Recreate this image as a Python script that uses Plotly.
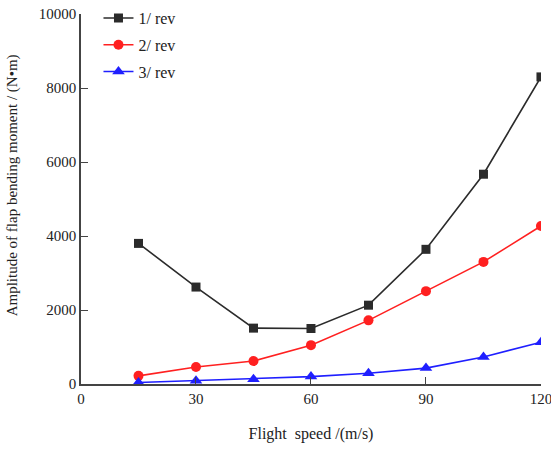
import plotly.graph_objects as go

speed = [15, 30, 45, 60, 75, 90, 105, 120]
rev1 = [3800, 2620, 1510, 1500, 2130, 3640, 5670, 8300]
rev2 = [220, 460, 620, 1050, 1720, 2510, 3300, 4270]
rev3 = [40, 90, 130, 200, 290, 430, 730, 1130]

x_ticks = [0, 30, 60, 90, 120]
y_ticks = [0, 2000, 4000, 6000, 8000, 10000]
y_ticktext = ["0", "2000", "4000", "6000", "8000", "10000"]

series = [
    ("1/ rev", rev1, "#2b2b2b", "square", 9),
    ("2/ rev", rev2, "#ff2020", "circle", 10),
    ("3/ rev", rev3, "#1f1fff", "triangle-up", 11),
]

fig = go.Figure()
for i, (name, vals, color, sym, sz) in enumerate(series):
    fig.add_trace(go.Scatter(
        x=speed, y=vals, name=name, mode="lines+markers",
        line=dict(color=color, width=1.6),
        marker=dict(symbol=sym, size=sz, color=color),
        legendgroup=f"g{i}",
    ))

font = "Liberation Serif, Times New Roman, serif"
fig.update_layout(
    width=551, height=449,
    margin=dict(l=81, r=10, t=14, b=65, autoexpand=False),
    plot_bgcolor="white", paper_bgcolor="white",
    font=dict(family=font, size=15, color="#222"),
    showlegend=True,
    legend=dict(x=0.038, y=1.035, xanchor="left", yanchor="top",
                bgcolor="rgba(0,0,0,0)", font=dict(size=16, family=font),
                traceorder="grouped", tracegroupgap=3),
    xaxis=dict(range=[0, 120.01], tickvals=x_ticks,
               showgrid=False, zeroline=False, showline=True,
               linecolor="#444", linewidth=1.5, ticks="inside", ticklen=7,
               tickcolor="#444", tickfont=dict(size=15),
               ticklabeloverflow="allow",
               title=dict(text="Flight  speed /(m/s)", font=dict(size=16), standoff=22)),
    yaxis=dict(range=[0, 10000], tickvals=y_ticks, ticktext=y_ticktext,
               showgrid=False, zeroline=False, showline=True,
               linecolor="#444", linewidth=1.5, ticks="inside", ticklen=7,
               tickcolor="#444", tickfont=dict(size=15)),
    annotations=[dict(
        text="Amplitude of flap bending moment / (N•m)",
        textangle=-90, xref="paper", yref="paper",
        x=-0.147, y=0.538, xanchor="center", yanchor="middle",
        showarrow=False, font=dict(size=15, family=font),
    )],
)

fig.write_html("out.html")
